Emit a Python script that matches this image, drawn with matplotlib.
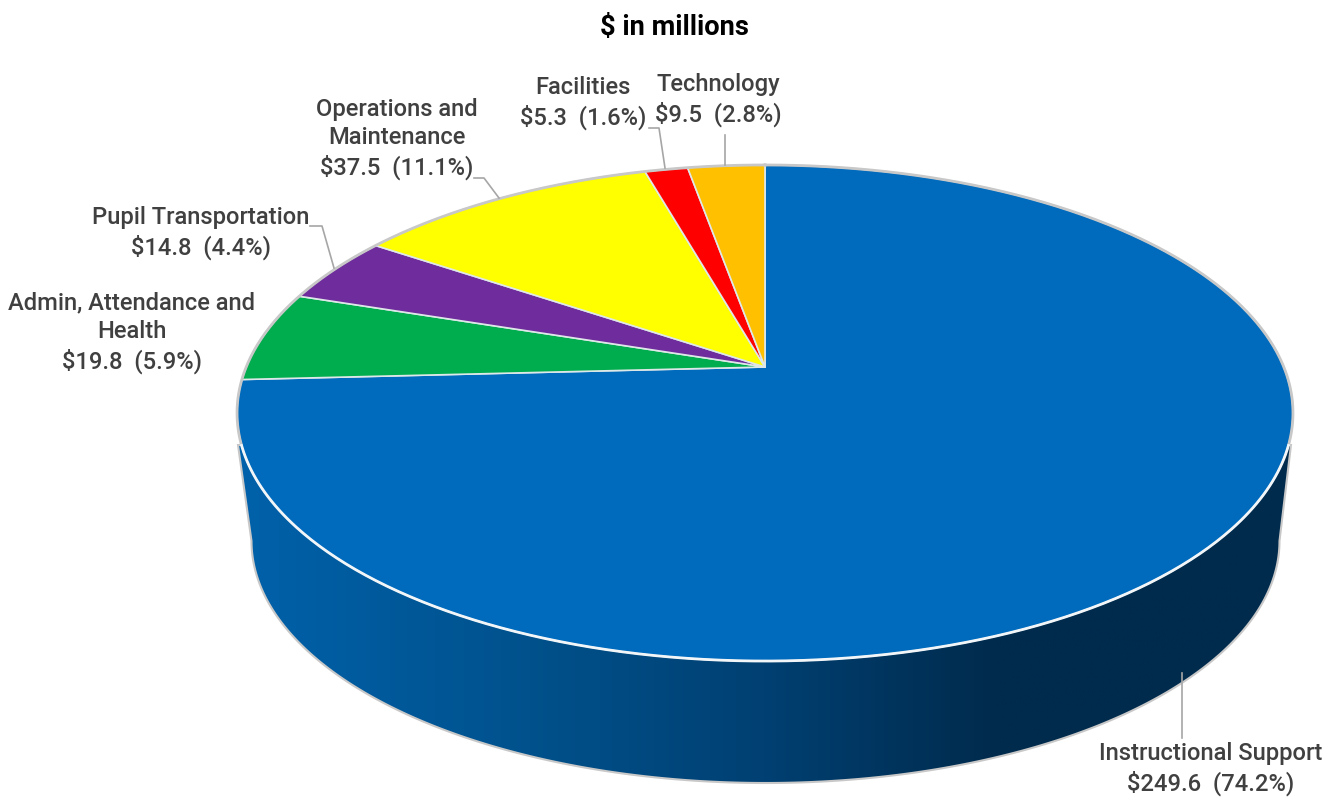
import numpy as np
import matplotlib
matplotlib.use('Agg')
import matplotlib.pyplot as plt
from matplotlib.colors import LinearSegmentedColormap
from matplotlib.patches import Polygon

names = ['Instructional Support', 'Admin, Attendance and\nHealth', 'Pupil Transportation',
         'Operations and\nMaintenance', 'Facilities', 'Technology']
values = [249.6, 19.8, 14.8, 37.5, 5.3, 9.5]
colors = ['#006bbd', '#00ad4e', '#6f2c9c', '#ffff00', '#ff0000', '#ffc000']

# where each label sits, and its leader line (pixels)
label_pos = [(1211, 769), (132, 333), (201, 233), (397, 139), (583, 103), (718, 100)]
leaders = [[(1182, 673), (1182, 738)],
           None,
           [(310, 226), (322, 226), (334, 268)],
           [(474, 178), (484, 178), (499, 198)],
           [(649, 128), (659, 128), (665, 168)],
           [(725, 135), (725, 165)]]

# perspective of the top face
apex_x, apex_y = 765, 367
k, px, py = 0.1855, 518.8, 239.5
# bottom rim of the side wall
low_x, low_y, low_a, low_b = 765.5, 541, 514, 242


def project(theta):
    # theta clockwise from 12 o'clock
    u, v = np.sin(theta), np.cos(theta)
    w = 1 + k * v
    return apex_x + px * u / w, apex_y - py * v / w


plt.rcParams['font.family'] = ['Roboto', 'Liberation Sans', 'DejaVu Sans']

fig = plt.figure(figsize=(13.36, 7.98), dpi=100)
ax = fig.add_axes([0, 0, 1, 1])

# side wall, gradient clipped to the outline
tt = np.linspace(0, 2 * np.pi, 721)
top_x, top_y = project(tt)
ang = np.linspace(np.pi, 0, 300)
wall = [(238, 445)] + list(zip(low_x + low_a * np.cos(ang), low_y + low_b * np.sin(ang))) + [(1291, 445)]
wall_patch = Polygon(wall, closed=True, fc='none', ec='#c8c8c8', lw=1.5, zorder=2)
ax.add_patch(wall_patch)
cmap = LinearSegmentedColormap.from_list('wall', [(0, '#0061aa'), (0.25, '#00538f'), (0.5, '#004072'),
                                                  (0.72, '#002b4d'), (1, '#002b4d')])
im = ax.imshow(np.linspace(0, 1, 512)[None, :], extent=(238, 1291, 798, 400), aspect='auto',
               cmap=cmap, zorder=1)
im.set_clip_path(wall_patch)

# top face, white rim against the wall, grey against the page
ax.fill(top_x, top_y, color=colors[0], lw=0, zorder=3)
front = (top_y > 445)
ax.plot(top_x, np.where(front, np.nan, top_y), color='#c8c8c8', lw=2, zorder=5)
ax.plot(top_x, np.where(front, top_y, np.nan), color='#f2f6f8', lw=2, zorder=6)

fracs = np.array(values) / sum(values)
edges = np.concatenate([[0], np.cumsum(fracs)]) * 2 * np.pi
for i in range(len(values)):
    th = np.linspace(edges[i], edges[i + 1], 200)
    x, y = project(th)
    ax.fill(np.r_[apex_x, x], np.r_[apex_y, y], fc=colors[i], ec='#dfe8e8', lw=1.2, zorder=4,
            joinstyle='round')

for i in range(len(values)):
    txt = '%s\n$%.1f  (%.1f%%)' % (names[i], values[i], fracs[i] * 100)
    txt = txt.replace('$', r'\$')
    ax.text(label_pos[i][0], label_pos[i][1], txt, ha='center', va='center', ma='center',
            fontsize=17.1, color='#404040', linespacing=1.3, fontweight='medium', zorder=7)
    if leaders[i]:
        ax.plot(*zip(*leaders[i]), color='#a6a6a6', lw=1.2, zorder=7)

ax.text(674.5, 28, r'\$ in millions', ha='center', va='center', fontsize=19.6, fontweight='bold', color='black')

ax.set_xlim(0, 1336)
ax.set_ylim(798, 0)
ax.axis('off')
fig.savefig('out.png', dpi=100)
